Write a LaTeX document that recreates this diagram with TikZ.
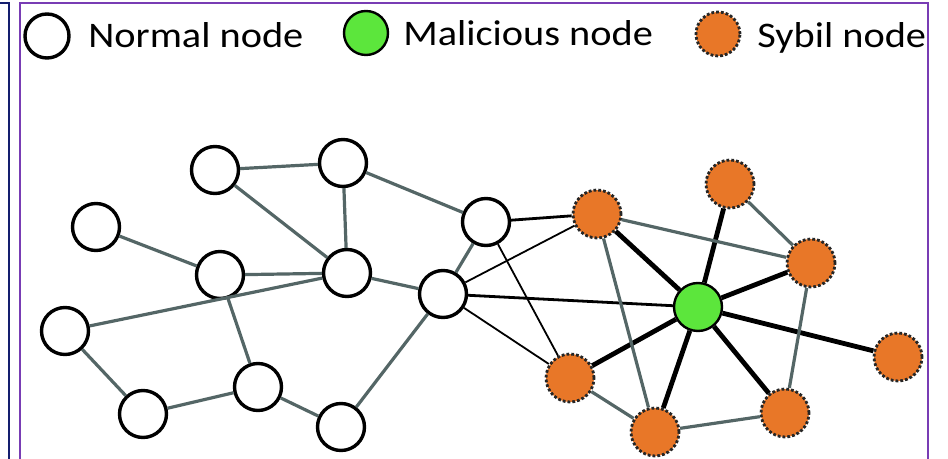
\documentclass[tikz,border=0pt]{standalone}
\usepackage{fontspec}
\setmainfont{Carlito}[FakeStretch=1.12]
\usetikzlibrary{positioning}

\definecolor{sybilorange}{RGB}{232,119,40}
\definecolor{malgreen}{RGB}{92,230,60}
\definecolor{edgegray}{RGB}{84,102,102}
\definecolor{framenavy}{RGB}{20,30,110}
\definecolor{framepurple}{RGB}{120,60,180}

\begin{document}
\begin{tikzpicture}[x=0.5pt,y=-0.5pt,
  normalnode/.style={draw, circle, line width=1.7pt, fill=white, minimum size=23.5pt, inner sep=0pt},
  malnode/.style={draw, circle, line width=1.2pt, fill=malgreen, minimum size=24pt, inner sep=0pt},
  sybilnode/.style={draw=black!85, circle, densely dotted, line width=1.4pt, fill=sybilorange, minimum size=24pt, inner sep=0pt},
  legend/.style={anchor=base west, inner sep=0pt, font=\fontsize{18pt}{20pt}\selectfont},
  graylink/.style={draw=edgegray, line width=1.6pt},
  weaklink/.style={draw=black, line width=0.9pt},
  midlink/.style={draw=black, line width=1.4pt},
  starlink/.style={draw=black, line width=2.4pt}
]
\useasboundingbox (0,0) rectangle (948,459);

% frame
\draw[framenavy, line width=1pt] (-5,3) -- (9,3) -- (9,470);
\draw[framepurple, line width=1pt] (20,470) -- (20,3) -- (928,3) -- (928,470);

% legend
\node[normalnode, minimum size=22pt] (keynormal) at (47,36) {};
\node[legend] (txtnormal) at (88,48) {Normal node};
\node[malnode, minimum size=22pt] (keymal) at (366,33) {};
\node[legend] (txtmal) at (403,46) {Malicious node};
\node[sybilnode, minimum size=22pt] (keysybil) at (718,34) {};
\node[legend] (txtsybil) at (757,48) {Sybil node};

% normal nodes
\node[normalnode] (n1) at (215,170) {};
\node[normalnode] (n2) at (343,163) {};
\node[normalnode] (n3) at (96,227) {};
\node[normalnode] (n4) at (220,275) {};
\node[normalnode] (n5) at (347,273) {};
\node[normalnode] (n6) at (486,222) {};
\node[normalnode] (n7) at (443,294) {};
\node[normalnode] (n8) at (65,331) {};
\node[normalnode] (n9) at (258,387) {};
\node[normalnode] (n10) at (143,414) {};
\node[normalnode] (n11) at (341,427) {};

% attacker side
\node[malnode] (mal) at (698,307) {};
\node[sybilnode] (s1) at (597,214) {};
\node[sybilnode] (s2) at (730,184) {};
\node[sybilnode] (s3) at (811,263) {};
\node[sybilnode] (s4) at (898,357) {};
\node[sybilnode] (s5) at (785,413) {};
\node[sybilnode] (s6) at (655,432) {};
\node[sybilnode] (s7) at (570,378) {};

% honest links
\draw[graylink] (n1) -- (n2);
\draw[graylink] (n1) -- (n5);
\draw[graylink] (n2) -- (n5);
\draw[graylink] (n2) -- (n6);
\draw[graylink] (n3) -- (n4);
\draw[graylink] (n4) -- (n5);
\draw[graylink] (n4) -- (n9);
\draw[graylink] (n8) -- (n5);
\draw[graylink] (n8) -- (n10);
\draw[graylink] (n10) -- (n9);
\draw[graylink] (n9) -- (n11);
\draw[graylink] (n11) -- (n7);
\draw[graylink] (n5) -- (n7);
\draw[graylink] (n7) -- (n6);

% attack links
\draw[midlink] (n6) -- (s1);
\draw[weaklink] (n6) -- (s7);
\draw[weaklink] (n7) -- (s1);
\draw[midlink] (n7) -- (mal);
\draw[weaklink] (n7) -- (s7);

% sybil links
\foreach \s in {s1,s2,s3,s4,s5,s6,s7}
  \draw[starlink] (mal) -- (\s);
\draw[graylink] (s1) -- (s3);
\draw[graylink] (s2) -- (s3);
\draw[graylink] (s1) -- (s6);
\draw[graylink] (s3) -- (s5);
\draw[graylink] (s7) -- (s6);
\draw[graylink] (s6) -- (s5);
\end{tikzpicture}
\end{document}
